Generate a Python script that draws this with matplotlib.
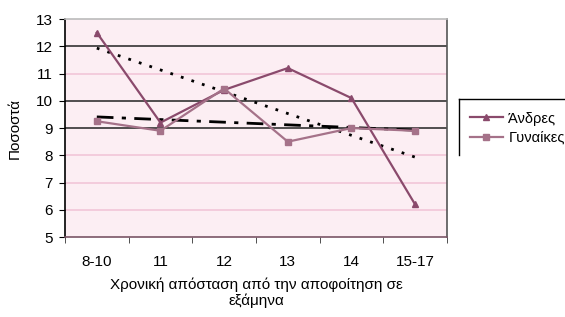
import matplotlib
matplotlib.use("Agg")
import matplotlib.pyplot as plt
from matplotlib.lines import Line2D
import numpy as np

plt.rcParams['font.family'] = ['Liberation Sans', 'DejaVu Sans']

categories = ['8-10', '11', '12', '13', '14', '15-17']
men = [12.5, 9.2, 10.4, 11.2, 10.1, 6.2]
women = [9.25, 8.9, 10.45, 8.5, 9.0, 8.9]
dark_grid = [9, 10, 12]
pink_grid = [6, 7, 8, 11]

fig = plt.figure(figsize=(5.65, 3.17), dpi=100)
ax = fig.add_axes([0.115, 0.252, 0.676, 0.688])
ax.set_facecolor('#FCEEF3')

x = np.arange(len(categories))
ax.set_xlim(-0.5, len(categories) - 0.5)
ax.set_ylim(5, 13)

for v in pink_grid:
    ax.axhline(v, color='#F2C6D8', lw=1.2, zorder=1)
for v in dark_grid:
    ax.axhline(v, color='#222222', lw=1.1, zorder=1)

l1, = ax.plot(x, men, color='#8A4A6C', lw=1.6, marker='^', ms=5,
              label='Άνδρες', zorder=3)
l2, = ax.plot(x, women, color='#A57289', lw=1.6, marker='s', ms=5,
              label='Γυναίκες', zorder=3)

# linear trendlines
for ys, ls in [(men, (0, (1, 3))), (women, (0, (6, 3, 1.5, 3)))]:
    k, b = np.polyfit(x, ys, 1)
    ax.plot(x, k * x + b, color='black', lw=2, linestyle=ls, zorder=2)

ax.set_yticks(range(5, 14))
ax.set_xticks(x)
ax.set_xticklabels(categories)
ax.set_xticks(np.arange(-0.5, len(categories)), minor=True)
ax.tick_params(axis='x', which='major', length=0, pad=13, labelsize=11)
ax.tick_params(axis='x', which='minor', length=4, color='#333333')
ax.tick_params(axis='y', length=4, labelsize=11, pad=5)

ax.spines['left'].set_color('black')
ax.spines['bottom'].set_color('#7A5566')
ax.spines['top'].set_color('#BBBBBB')
ax.spines['right'].set_color('#555555')
for s in ax.spines.values():
    s.set_linewidth(1.2)

ax.set_ylabel('Ποσοστά', fontsize=11, labelpad=10)
ax.set_xlabel('Χρονική απόσταση από την αποφοίτηση σε\nεξάμηνα', fontsize=11,
              labelpad=6, linespacing=1.15)

leg = fig.legend(handles=[l1, l2], loc='upper left', bbox_to_anchor=(0.812, 0.685),
                 fontsize=10.5, frameon=False, handlelength=2.2, handletextpad=0.4,
                 borderpad=0.3, labelspacing=0.35)

# legend frame: only top and left edges are visible in the original
x0, y0, y1 = 459 / 565, 1 - 99 / 317, 1 - 155 / 317
fig.add_artist(Line2D([x0, 1.0], [y0, y0], color='black', lw=1, transform=fig.transFigure))
fig.add_artist(Line2D([x0, x0], [y0, y1], color='black', lw=1, transform=fig.transFigure))

fig.savefig('out.png', dpi=100)
